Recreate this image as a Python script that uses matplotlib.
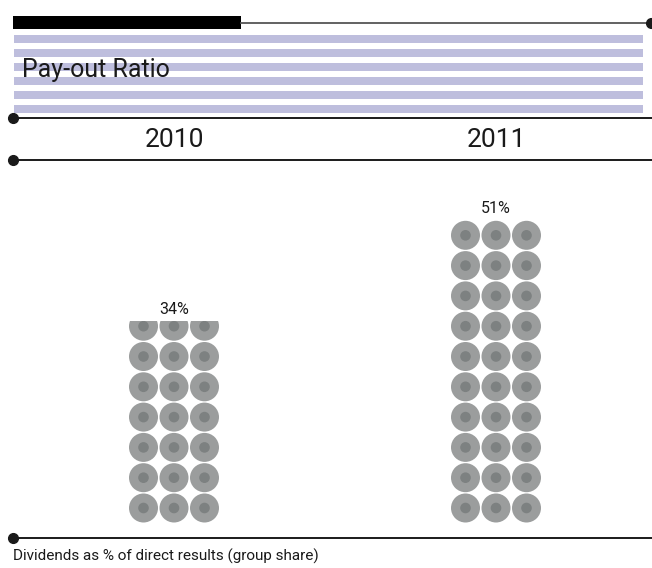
import numpy as np
import matplotlib.pyplot as plt
from matplotlib.patches import Rectangle, Circle

# data
years = ['2010', '2011']
payout = [34, 51]
payout_labels = ['34%', '51%']
pct_per_row = 5.1   # one row of coins = 5.1 %
coins_per_row = 3

title = 'Pay-out Ratio'
footnote = 'Dividends as % of direct results (group share)'

# style
W, H = 652, 568
ink = '#1a1a1a'
stripe_col = '#bebedd'
coin_out = '#9b9d9d'
coin_in = '#7d8181'
font = 'Roboto'

fig = plt.figure(figsize=(W / 100, H / 100), dpi=100)
ax = fig.add_axes([0, 0, 1, 1])
ax.set_xlim(0, W)
ax.set_ylim(H, 0)
ax.axis('off')

# header: black bar + thin line with end dot
ax.add_patch(Rectangle((13, 16), 228, 13, color='black', lw=0))
ax.plot([241, 650], [22.5, 22.5], color='#555555', lw=1.3)
ax.plot([651], [22.5], 'o', color=ink, ms=7, clip_on=False)

# lavender stripes behind the title
for i in range(6):
    ax.add_patch(Rectangle((14, 35 + i * 13.9), 629, 8, color=stripe_col, lw=0))
ax.text(22, 70, title, fontsize=18, family=font, color=ink, va='center', ha='left')

# rule lines with left dot
for y in [118, 160, 538]:
    ax.plot([13, W], [y, y], color=ink, lw=1.4)
    ax.plot([13], [y], 'o', color=ink, ms=7)

centers = [174, 496]
for cx, yr in zip(centers, years):
    ax.text(cx, 140, yr, fontsize=19, family=font, color=ink, ha='center', va='center')

# coin stacks
bottom_y = 508
row_h = 30.3
col_w = 30.5
r_out, r_in = 14.5, 5.3
for cx, val, lab in zip(centers, payout, payout_labels):
    rows = val / pct_per_row
    n_full = int(np.floor(rows + 1e-9))
    frac = rows - n_full
    n_draw = n_full + (1 if frac > 0.05 else 0)
    top = bottom_y - (n_full - 1) * row_h - r_out
    clip = None
    if n_draw > n_full:
        row_bottom = bottom_y - n_full * row_h + row_h / 2
        cut = row_bottom - frac * row_h
        clip = Rectangle((0, cut), W, H, transform=ax.transData)
        top = cut
    for r in range(n_draw):
        cy = bottom_y - r * row_h
        for c in range(coins_per_row):
            x = cx + (c - 1) * col_w
            for p in [Circle((x, cy), r_out, color=coin_out, lw=0),
                      Circle((x, cy), r_in, color=coin_in, lw=0)]:
                ax.add_patch(p)
                if r == n_full and clip is not None:
                    p.set_clip_path(clip)
    ax.text(cx, top - 12, lab, fontsize=11.5, family=font, color=ink, ha='center', va='center')

ax.text(13, 556, footnote, fontsize=11, family=font, color=ink, ha='left', va='center')

fig.savefig('out.png', dpi=100)
